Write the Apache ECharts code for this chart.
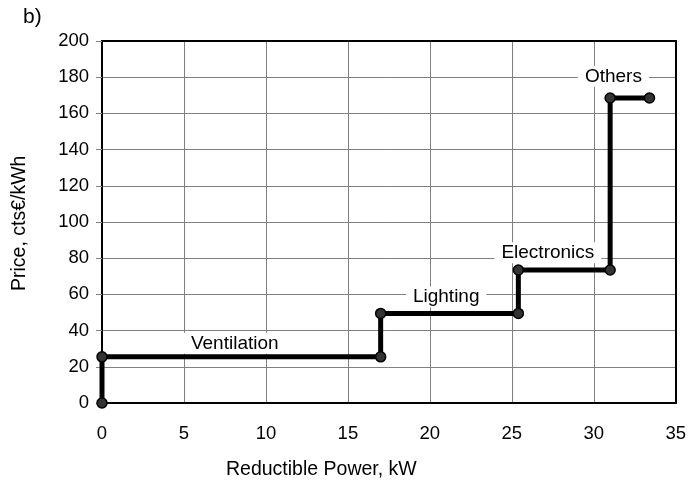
<!DOCTYPE html>
<html>
<head>
<meta charset="utf-8">
<script src="https://cdn.jsdelivr.net/npm/echarts@6/dist/echarts.min.js"></script>
<style>
  html, body { margin: 0; padding: 0; background: #fff; }
  #chart { width: 689px; height: 490px; }
</style>
</head>
<body>
<div id="chart"></div>
<script>
// step curve: reductible power (kW) vs price (cts€/kWh)
var powerKW = [0, 0, 17, 17, 25.4, 25.4, 31, 31, 33.4];
var priceCts = [0, 25.5, 25.5, 49.5, 49.5, 73.5, 73.5, 168.5, 168.5];

// group labels
var groupNames = ['Ventilation', 'Lighting', 'Electronics', 'Others'];
var groupX = [8.1, 21, 27.2, 31.2];
var groupY = [33, 58.5, 83, 180.5];

var xTicks = [0, 5, 10, 15, 20, 25, 30, 35];
var yTicks = [0, 20, 40, 60, 80, 100, 120, 140, 160, 180, 200];

var chart = echarts.init(document.getElementById('chart'));

var font = 'Liberation Sans, Arial, sans-serif';

var lineData = [];
for (var i = 0; i < powerKW.length; i++) {
  lineData.push([powerKW[i], priceCts[i]]);
}
var labelData = [];
for (var j = 0; j < groupNames.length; j++) {
  labelData.push({ value: [groupX[j], groupY[j]], name: groupNames[j] });
}

var frameAxis = {
  type: 'value',
  axisLine: { show: true, onZero: false, lineStyle: { color: '#000', width: 2 } },
  axisTick: { show: false },
  axisLabel: { show: false },
  splitLine: { show: false }
};

var option = {
  animation: false,
  backgroundColor: '#fff',
  grid: { left: 102, right: 13, top: 41, bottom: 87 },
  graphic: [
    { type: 'text', left: 23, top: 7,
      style: { text: 'b)', font: '21px ' + font, fill: '#000' } },
    { type: 'text', left: 226, top: 460,
      style: { text: 'Reductible Power, kW', font: '19.5px ' + font, fill: '#000' } },
    { type: 'text', x: 10, y: 291, rotation: Math.PI / 2,
      style: { text: 'Price, cts€/kWh', font: '19.5px ' + font, fill: '#000' } }
  ],
  xAxis: [{
    type: 'value',
    min: xTicks[0],
    max: xTicks[xTicks.length - 1],
    interval: 5,
    axisLine: { show: true, onZero: false, lineStyle: { color: '#000', width: 2 } },
    axisTick: { show: false },
    axisLabel: { color: '#000', fontSize: 18.5, fontFamily: font, margin: 21 },
    splitLine: { show: true, lineStyle: { color: '#808080', width: 1 } }
  }, Object.assign({ position: 'top', min: 0, max: 35 }, frameAxis)],
  yAxis: [{
    type: 'value',
    min: yTicks[0],
    max: yTicks[yTicks.length - 1],
    interval: 20,
    axisLine: { show: true, onZero: false, lineStyle: { color: '#000', width: 2 } },
    axisTick: { show: true, length: 6, lineStyle: { color: '#808080', width: 1 } },
    axisLabel: { color: '#000', fontSize: 18.5, fontFamily: font, margin: 13 },
    splitLine: { show: true, lineStyle: { color: '#808080', width: 1 } }
  }, Object.assign({ position: 'right', min: 0, max: 200 }, frameAxis)],
  series: [
    {
      type: 'line',
      data: lineData,
      lineStyle: { color: '#000', width: 5 },
      symbol: 'circle',
      symbolSize: 10,
      itemStyle: { color: '#333', borderColor: '#000', borderWidth: 1.5 },
      z: 3
    },
    {
      type: 'scatter',
      data: labelData,
      symbolSize: 0,
      itemStyle: { opacity: 1 },
      label: {
        show: true,
        position: 'inside',
        formatter: '{b}',
        color: '#000',
        fontSize: 19,
        fontFamily: font,
        backgroundColor: '#fff',
        padding: [1, 7]
      },
      z: 4
    }
  ]
};

chart.setOption(option);
</script>
</body>
</html>
